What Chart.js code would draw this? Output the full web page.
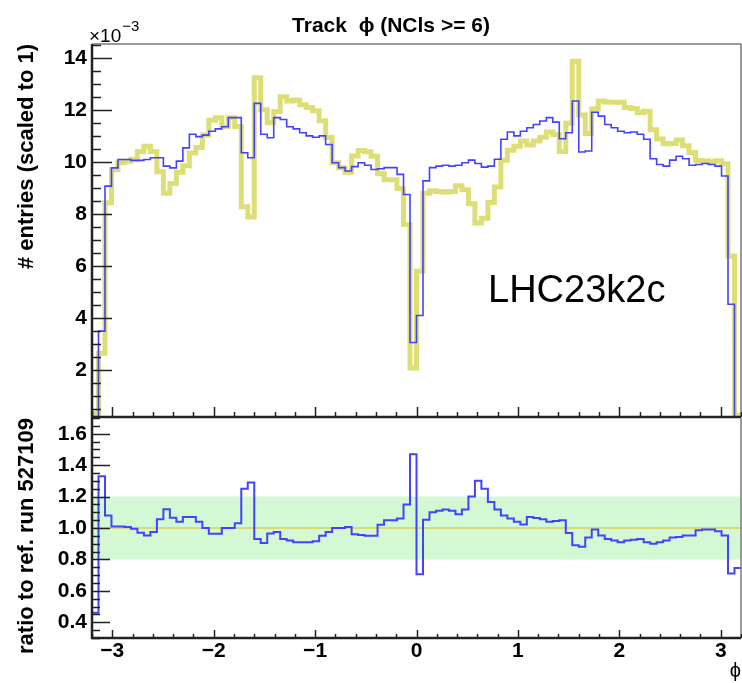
<!DOCTYPE html>
<html>
<head>
<meta charset="utf-8">
<title>Track phi (NCls >= 6)</title>
<script src="https://cdn.jsdelivr.net/npm/chart.js@4.4.0/dist/chart.umd.min.js"></script>
<style>
  html, body { margin: 0; padding: 0; background: #fff; }
  #wrap { position: relative; width: 742px; height: 683px; }
  #wrap canvas { position: absolute; left: 0; top: 0; }
</style>
</head>
<body>
<div id="wrap">
  <canvas id="topChart" width="742" height="683" style="width:742px;height:683px"></canvas>
  <canvas id="ratioChart" width="742" height="683" style="width:742px;height:683px"></canvas>
</div>
<script>
// binning of the phi histograms
const phiLo = -3.2;
const phiHi = 3.2;
const binW = 0.064;

// entries per bin, scaled to 1 (units of 1e-3)
const runPhi = [
  0.15, 3.5, 9.07, 9.77, 10.09, 10.09, 10.06, 10.06, 10.09, 10.16,
  10.16, 9.84, 9.77, 10.03, 10.54, 11.06, 10.97, 11.03, 11.18, 11.27,
  11.35, 11.7, 11.7, 10.35, 10.16, 12.25, 11.06, 10.93, 11.7, 11.63,
  11.35, 11.27, 11.12, 11.0, 10.95, 11.0, 10.67, 9.97, 9.78, 9.65,
  9.82, 9.97, 9.87, 9.71, 9.74, 9.78, 9.78, 9.52, 8.75, 3.06,
  4.1, 9.27, 9.78, 9.84, 9.87, 9.84, 9.87, 9.97, 10.07, 9.94,
  9.8, 9.84, 10.1, 10.87, 11.15, 11.0, 11.18, 11.31, 11.44, 11.57,
  11.7, 11.53, 10.89, 11.12, 12.34, 10.38, 10.42, 11.91, 11.76, 11.44,
  11.31, 11.18, 11.12, 11.15, 11.06, 10.87, 10.12, 9.9, 9.84, 10.07,
  10.22, 10.12, 9.87, 9.9, 9.94, 9.9, 9.84, 9.46, 4.53, 0.2
];
const refPhi = [
  0.33, 2.65, 8.43, 9.7, 9.98, 10.03, 10.1, 10.4, 10.6, 10.4,
  9.62, 8.8, 9.17, 9.6, 9.85, 10.34, 10.55, 11.03, 11.6, 11.7,
  11.35, 11.7, 11.36, 8.28, 7.88, 13.23, 12.0, 11.5, 11.94, 12.5,
  12.34, 12.38, 12.2, 12.09, 11.97, 11.58, 10.94, 9.97, 9.78, 9.6,
  10.23, 10.44, 10.39, 10.22, 9.55, 9.31, 9.31, 8.98, 7.6, 2.08,
  5.8, 8.8, 8.89, 8.86, 8.84, 8.86, 9.08, 8.93, 8.39, 7.65,
  7.84, 8.44, 9.04, 10.06, 10.45, 10.6, 10.8, 10.65, 10.8, 10.95,
  11.15, 11.05, 10.4, 11.49, 13.87, 11.8, 11.09, 12.03, 12.34, 12.3,
  12.29, 12.29, 12.09, 12.05, 11.89, 11.95, 11.24, 10.88, 10.7, 10.71,
  10.84, 10.62, 10.36, 10.05, 10.04, 10.0, 10.04, 9.93, 6.38, 0.27
];
// ratio to reference run 527109
const ratioPhi = [
  0.46, 1.33, 1.08, 1.01, 1.01, 1.006, 0.996, 0.97, 0.953, 0.975,
  1.055, 1.12, 1.066, 1.04, 1.07, 1.07, 1.04, 1.0, 0.964, 0.964,
  1.0, 1.0, 1.03, 1.25, 1.29, 0.93, 0.905, 0.965, 0.975, 0.93,
  0.92, 0.91, 0.91, 0.91, 0.915, 0.95, 0.975, 1.0, 1.0, 1.006,
  0.96, 0.955, 0.95, 0.95, 1.02, 1.05, 1.05, 1.06, 1.15, 1.47,
  0.705, 1.053, 1.1, 1.11, 1.117, 1.11, 1.087, 1.117, 1.2, 1.3,
  1.25, 1.166, 1.117, 1.08, 1.06, 1.04, 1.023, 1.07, 1.064, 1.055,
  1.04, 1.045, 1.05, 0.968, 0.89, 0.88, 0.94, 0.99, 0.953, 0.93,
  0.92, 0.91, 0.92, 0.925, 0.93, 0.91, 0.9, 0.91, 0.92, 0.94,
  0.943, 0.953, 0.953, 0.985, 0.99, 0.99, 0.98, 0.953, 0.71, 0.745
];
const bandLimits = [0.8, 1.2];
const refLevel = 1.0;

// tick labels
const phiTicks = [-3, -2, -1, 0, 1, 2, 3];
const entryTicks = [2, 4, 6, 8, 10, 12, 14];
const ratioTicks = [0.4, 0.6, 0.8, 1.0, 1.2, 1.4, 1.6];

const titleText = "Track  \u03D5 (NCls >= 6)";
const periodText = "LHC23k2c";

const blueCol = "rgb(66,66,255)";
const yellowCol = "rgb(222,222,118)";
const fontFam = '"Liberation Sans", Arial, Helvetica, sans-serif';
Chart.defaults.font.family = fontFam;
Chart.defaults.color = "#000";

// one point per bin low edge, plus the upper edge of the last bin
function steps(values) {
  var pts = values.map(function (v, k) {
    return { x: phiLo + k * binW, y: v };
  });
  pts.push({ x: phiHi, y: values[values.length - 1] });
  return pts;
}

function minus(v) {
  return v < 0 ? "\u2212" + Math.abs(v) : String(v);
}

function tickLoop(min, max, step, fn) {
  for (var i = Math.ceil(min / step - 1e-6); i * step <= max + 1e-6; i++) {
    fn(i * step);
  }
}

function isMajor(v, step) {
  var r = v / step;
  return Math.abs(r - Math.round(r)) < 1e-6;
}

// ROOT style frame: inward tick marks, black axes, grey top/right border
const rootFrame = {
  id: "rootFrame",
  afterDatasetsDraw: function (chart, args, o) {
    var ctx = chart.ctx;
    var a = chart.chartArea;
    var xs = chart.scales.x;
    var ys = chart.scales.y;
    ctx.save();
    ctx.strokeStyle = "#7a7a7a";
    ctx.lineWidth = 1.5;
    ctx.beginPath();
    if (o.topBorder) {
      ctx.moveTo(a.left, a.top);
      ctx.lineTo(a.right, a.top);
    }
    ctx.moveTo(a.right, a.top);
    ctx.lineTo(a.right, a.bottom);
    ctx.stroke();

    ctx.strokeStyle = "#222";
    ctx.lineWidth = 1.5;
    ctx.beginPath();
    tickLoop(ys.min, ys.max, o.yMinor, function (v) {
      var py = Math.round(ys.getPixelForValue(v)) + 0.5;
      var len = isMajor(v, o.yMajor) ? o.yMajorLen : o.yMinorLen;
      ctx.moveTo(a.left, py);
      ctx.lineTo(a.left + len, py);
    });
    tickLoop(xs.min, xs.max, o.xMinor, function (v) {
      var px = Math.round(xs.getPixelForValue(v)) + 0.5;
      var len = isMajor(v, 1) ? o.xMajorLen : o.xMinorLen;
      ctx.moveTo(px, a.bottom);
      ctx.lineTo(px, a.bottom - len);
    });
    ctx.stroke();

    ctx.lineWidth = 2.5;
    ctx.beginPath();
    ctx.moveTo(a.left, a.top);
    ctx.lineTo(a.left, a.bottom);
    ctx.lineTo(a.right, a.bottom);
    ctx.stroke();
    ctx.restore();
  }
};

// title, exponent and period label on the upper pad
const padText = {
  id: "padText",
  afterDraw: function (chart) {
    var ctx = chart.ctx;
    var a = chart.chartArea;
    ctx.save();
    ctx.fillStyle = "#000";
    ctx.textBaseline = "alphabetic";
    ctx.font = "bold 21px " + fontFam;
    ctx.textAlign = "center";
    ctx.fillText(titleText, 391, 32);
    ctx.textAlign = "left";
    ctx.font = "19px " + fontFam;
    ctx.fillText("\u00D710", a.left - 3, 42);
    var w = ctx.measureText("\u00D710").width;
    ctx.font = "15px " + fontFam;
    ctx.fillText("\u22123", a.left - 2 + w, 31);
    ctx.font = "38px " + fontFam;
    ctx.fillText(periodText, 488, 302);
    ctx.restore();
  }
};

const axisTitleFont = { weight: "bold", size: 22 };
const tickFont = { weight: "bold", size: 21 };

new Chart(document.getElementById("topChart"), {
  type: "line",
  data: {
    datasets: [
      {
        label: periodText,
        data: steps(runPhi),
        stepped: "before",
        borderColor: blueCol,
        borderWidth: 1.6,
        pointRadius: 0,
        order: 0
      },
      {
        label: "ref. run 527109",
        data: steps(refPhi),
        stepped: "before",
        borderColor: yellowCol,
        borderWidth: 5,
        pointRadius: 0,
        clip: 0,
        order: 1
      }
    ]
  },
  options: {
    responsive: false,
    animation: false,
    layout: { padding: { left: 0, top: 44, right: 1, bottom: 266 } },
    plugins: {
      legend: { display: false },
      tooltip: { enabled: false },
      rootFrame: {
        topBorder: true,
        yMajor: 2, yMinor: 0.5, yMajorLen: 20, yMinorLen: 9,
        xMinor: 0.2, xMajorLen: 10, xMinorLen: 5
      }
    },
    scales: {
      x: { type: "linear", min: phiLo, max: phiHi, display: false },
      y: {
        min: 0.2,
        max: 14.53,
        afterBuildTicks: function (s) {
          s.ticks = entryTicks.map(function (v) { return { value: v }; });
        },
        afterFit: function (s) { s.width = 92; },
        grid: { display: false, drawTicks: false },
        border: { display: false },
        ticks: { font: tickFont, color: "#000", padding: 5 },
        title: {
          display: true,
          text: "# entries (scaled to 1)",
          align: "end",
          font: axisTitleFont,
          color: "#000",
          padding: { top: 14, bottom: 0 }
        }
      }
    }
  },
  plugins: [rootFrame, padText]
});

new Chart(document.getElementById("ratioChart"), {
  type: "line",
  data: {
    datasets: [
      {
        label: "ratio",
        data: steps(ratioPhi),
        stepped: "before",
        borderColor: blueCol,
        borderWidth: 2,
        pointRadius: 0,
        order: 0
      },
      {
        label: "1",
        data: [{ x: phiLo, y: refLevel }, { x: phiHi, y: refLevel }],
        borderColor: "rgb(212,212,90)",
        borderWidth: 1.5,
        pointRadius: 0,
        order: 1
      },
      {
        label: "band",
        data: [{ x: phiLo, y: bandLimits[1] }, { x: phiHi, y: bandLimits[1] }],
        borderWidth: 0,
        borderColor: "rgba(0,0,0,0)",
        backgroundColor: "rgb(212,248,212)",
        fill: { value: bandLimits[0] },
        pointRadius: 0,
        order: 2
      }
    ]
  },
  options: {
    responsive: false,
    animation: false,
    layout: { padding: { left: 0, top: 418, right: 1, bottom: 0 } },
    plugins: {
      legend: { display: false },
      tooltip: { enabled: false },
      rootFrame: {
        topBorder: false,
        yMajor: 0.2, yMinor: 0.05, yMajorLen: 18, yMinorLen: 8,
        xMinor: 0.2, xMajorLen: 8, xMinorLen: 4
      }
    },
    scales: {
      x: {
        type: "linear",
        min: phiLo,
        max: phiHi,
        afterBuildTicks: function (s) {
          s.ticks = phiTicks.map(function (v) { return { value: v }; });
        },
        afterFit: function (s) { s.height = 45; },
        grid: { display: false, drawTicks: false },
        border: { display: false },
        ticks: {
          font: tickFont,
          color: "#000",
          padding: 1,
          maxRotation: 0,
          autoSkip: false,
          callback: function (v) { return minus(v); }
        },
        title: {
          display: true,
          text: "\u03D5",
          align: "end",
          font: { size: 20 },
          color: "#000",
          padding: { top: 0, bottom: 0 }
        }
      },
      y: {
        min: 0.3,
        max: 1.7,
        afterBuildTicks: function (s) {
          s.ticks = ratioTicks.map(function (v) { return { value: v }; });
        },
        afterFit: function (s) { s.width = 92; },
        grid: { display: false, drawTicks: false },
        border: { display: false },
        ticks: {
          font: tickFont,
          color: "#000",
          padding: 5,
          callback: function (v) { return Number(v).toFixed(1); }
        },
        title: {
          display: true,
          text: "ratio to ref. run 527109",
          align: "end",
          font: axisTitleFont,
          color: "#000",
          padding: { top: 14, bottom: 0 }
        }
      }
    }
  },
  plugins: [rootFrame]
});
</script>
</body>
</html>
